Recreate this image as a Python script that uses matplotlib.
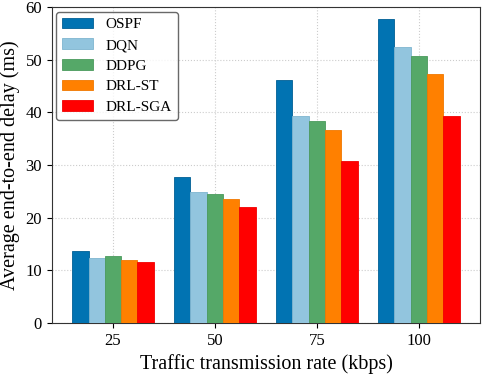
import numpy as np
import matplotlib
matplotlib.use("Agg")
import matplotlib.pyplot as plt

plt.rcParams['font.family'] = ['Liberation Serif', 'DejaVu Serif']

rates = ['25', '50', '75', '100']
methods = ['OSPF', 'DQN', 'DDPG', 'DRL-ST', 'DRL-SGA']
ospf = [13.7, 27.7, 46.2, 57.8]
dqn = [12.4, 24.9, 39.3, 52.5]
ddpg = [12.7, 24.6, 38.3, 50.8]
drl_st = [12.0, 23.6, 36.7, 47.3]
drl_sga = [11.7, 22.1, 30.7, 39.3]
colors = ['#0173b2', '#92c5de', '#55a868', '#ff8000', '#ff0000']
edges = ['#005f94', '#7fb5d0', '#4a9a5c', '#f07800', '#f00000']

series = [ospf, dqn, ddpg, drl_st, drl_sga]

fig = plt.figure(figsize=(4.84, 3.74), dpi=100)
ax = fig.add_axes([0.107, 0.136, 0.885, 0.845])

x = np.arange(len(rates))
w = 0.16
for i, (vals, name) in enumerate(zip(series, methods)):
    ax.bar(x + (i - 2) * w, vals, w, color=colors[i], edgecolor=edges[i],
           linewidth=0.6, label=name, zorder=3)

ax.set_xticks(x)
ax.set_xticklabels(rates)
ax.set_xlim(-0.6, 3.6)
ax.set_ylim(0, 60)
ax.set_yticks(range(0, 61, 10))
ax.tick_params(labelsize=12)
ax.set_xlabel('Traffic transmission rate (kbps)', fontsize=14.5)
ax.set_ylabel('Average end-to-end delay (ms)', fontsize=14.5)
ax.grid(True, linestyle=':', color='#cccccc', linewidth=0.8, zorder=0)
for s in ax.spines.values():
    s.set_color('#333333')
ax.legend(loc='upper left', fontsize=11, frameon=True, edgecolor='#444444',
          fancybox=True, borderaxespad=0.3, labelspacing=0.45)

fig.savefig('out.png', dpi=100)
